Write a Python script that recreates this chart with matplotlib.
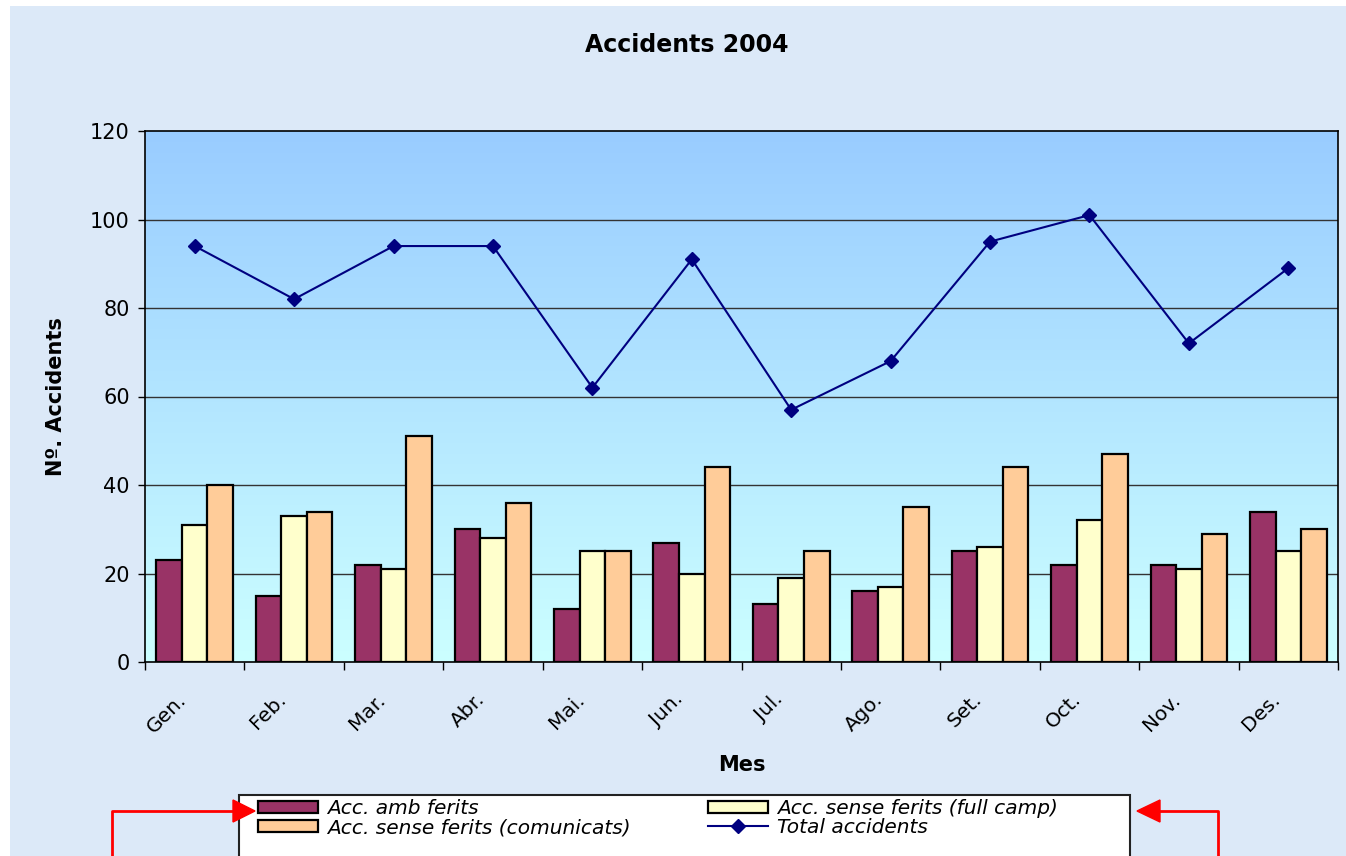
import numpy as np
import matplotlib
matplotlib.use("Agg")
import matplotlib.pyplot as plt
from matplotlib.colors import LinearSegmentedColormap
from matplotlib.patches import Rectangle, Polygon
from matplotlib.lines import Line2D

# data
months = ["Gen.", "Feb.", "Mar.", "Abr.", "Mai.", "Jun.",
          "Jul.", "Ago.", "Set.", "Oct.", "Nov.", "Des."]
amb_ferits = [23, 15, 22, 30, 12, 27, 13, 16, 25, 22, 22, 34]
sense_full_camp = [31, 33, 21, 28, 25, 20, 19, 17, 26, 32, 21, 25]
sense_comunicats = [40, 34, 51, 36, 25, 44, 25, 35, 44, 47, 29, 30]
total = [94, 82, 94, 94, 62, 91, 57, 68, 95, 101, 72, 89]

W, H = 1346, 856


def fx(px):
    return px / W


def fy(py):
    return 1 - py / H


fig = plt.figure(figsize=(13.46, 8.56), dpi=100, facecolor="white")
# pale blue page background (white strips at top and left edge)
fig.add_artist(Rectangle((fx(10), 0), 1, fy(6), transform=fig.transFigure,
                         facecolor="#dce9f8", edgecolor="none", zorder=-10))

ax = fig.add_axes([fx(145), fy(662), fx(1338) - fx(145), fy(131) - fy(662)])

# gradient plot area
cmap = LinearSegmentedColormap.from_list("bg", ["#ccffff", "#99ccff"])
grad = np.linspace(0, 1, 256).reshape(-1, 1)
ax.imshow(grad, extent=[-0.5, 11.5, 0, 120], aspect="auto", origin="lower",
          cmap=cmap, zorder=0)

x = np.arange(len(months))
w = 0.257
ax.bar(x - w, amb_ferits, w, color="#993366", edgecolor="black", lw=1.6,
       zorder=3, label="Acc. amb ferits")
ax.bar(x, sense_full_camp, w, color="#ffffcc", edgecolor="black", lw=1.6,
       zorder=3, label="Acc. sense ferits (full camp)")
ax.bar(x + w, sense_comunicats, w, color="#ffcc99", edgecolor="black", lw=1.6,
       zorder=3, label="Acc. sense ferits (comunicats)")
ax.plot(x, total, color="#000080", lw=1.5, marker="D", markersize=7.5,
        zorder=4, label="Total accidents")

ax.set_xlim(-0.5, 11.5)
ax.set_ylim(0, 120)
ax.set_yticks(range(0, 121, 20))
for yv in range(20, 120, 20):
    ax.axhline(yv, color="#333333", lw=1, zorder=1)

# labels sit a little left of the category centre, like Excel's rotated labels
ax.set_xticks(x - 0.18)
ax.set_xticklabels(months, rotation=45, ha="right", va="top",
                   rotation_mode="anchor", fontsize=14.5)
ax.set_xticks(np.arange(-0.5, 12, 1), minor=True)
ax.tick_params(axis="x", which="major", length=0, pad=20)
ax.tick_params(axis="x", which="minor", length=6, width=1)
ax.tick_params(axis="y", length=5, width=1, labelsize=15, pad=6)
for s in ax.spines.values():
    s.set_color("black")
    s.set_linewidth(1.2)

ax.set_ylabel("Nº. Accidents", fontsize=15, fontweight="bold", labelpad=17)
ax.set_xlabel("Mes", fontsize=15, fontweight="bold", labelpad=13)
fig.text(fx(687), fy(45), "Accidents 2004", fontsize=17, fontweight="bold",
         ha="center", va="center")

# legend box
fig.add_artist(Rectangle((fx(239), -0.01), fx(1130) - fx(239), fy(795) + 0.01,
                         transform=fig.transFigure, facecolor="white",
                         edgecolor="#222222", lw=1.5, zorder=5))
handles, labels = ax.get_legend_handles_labels()
hmap = dict(zip(labels, handles))
leg_labels = ["Acc. amb ferits", "Acc. sense ferits (comunicats)",
              "Acc. sense ferits (full camp)", "Total accidents"]
leg = fig.legend([hmap[l] for l in leg_labels], leg_labels, ncol=2,
                 loc="upper left", bbox_to_anchor=(fx(258), fy(799)),
                 frameon=False, borderpad=0, borderaxespad=0,
                 prop={"style": "italic", "size": 14.5},
                 handlelength=3.0, handleheight=0.6, handletextpad=0.45,
                 labelspacing=0.0, columnspacing=3.8)
leg.set_zorder(6)

# red arrows pointing at the legend
for pts, head in [([(112, 870), (112, 811), (236, 811)],
                   [(255, 811), (233, 800), (233, 822)]),
                  ([(1218, 870), (1218, 811), (1158, 811)],
                   [(1137, 811), (1160, 800), (1160, 822)])]:
    fig.add_artist(Line2D([fx(p[0]) for p in pts], [fy(p[1]) for p in pts],
                          transform=fig.transFigure, color="red", lw=2,
                          zorder=7))
    fig.add_artist(Polygon([(fx(p[0]), fy(p[1])) for p in head],
                           transform=fig.transFigure, facecolor="red",
                           edgecolor="red", zorder=7))

fig.savefig("out.png", dpi=100, facecolor=fig.get_facecolor())
